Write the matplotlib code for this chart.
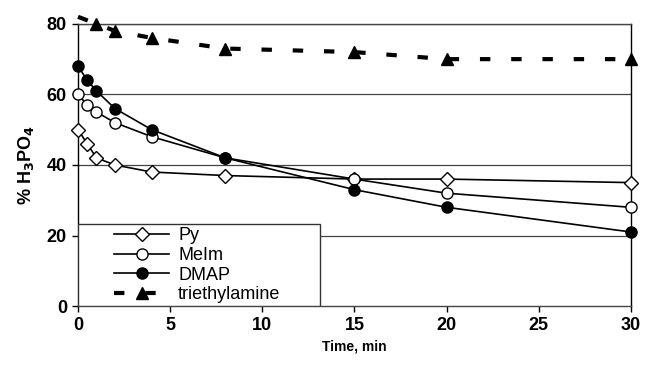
import matplotlib
matplotlib.use('Agg')
import matplotlib.pyplot as plt
from matplotlib.patches import Rectangle

plt.rcParams['font.family'] = ['Liberation Sans', 'DejaVu Sans']

# time points, min
t_py = [0, 0.5, 1, 2, 4, 8, 15, 20, 30]
py = [50, 46, 42, 40, 38, 37, 36, 36, 35]

t_meim = [0, 0.5, 1, 2, 4, 8, 15, 20, 30]
meim = [60, 57, 55, 52, 48, 42, 36, 32, 28]

t_dmap = [0, 0.5, 1, 2, 4, 8, 15, 20, 30]
dmap = [68, 64, 61, 56, 50, 42, 33, 28, 21]

t_tea = [0, 1, 2, 4, 8, 15, 20, 30]
tea = [82, 80, 78, 76, 73, 72, 70, 70]

xticks = [0, 5, 10, 15, 20, 25, 30]
yticks = [0, 20, 40, 60, 80]

fig = plt.figure(figsize=(6.45, 3.67), dpi=100)
ax = fig.add_axes([0.121, 0.166, 0.857, 0.769])

for y in [20, 40, 60, 80]:
    ax.axhline(y, color='#444444', lw=0.9, zorder=1)

ax.plot(t_py, py, color='black', lw=1.2, marker='D', ms=7, mfc='white',
        mec='black', mew=1, label='Py', clip_on=False, zorder=3)
ax.plot(t_meim, meim, color='black', lw=1.2, marker='o', ms=8, mfc='white',
        mec='black', mew=1, label='MeIm', clip_on=False, zorder=3)
ax.plot(t_dmap, dmap, color='black', lw=1.2, marker='o', ms=8, mfc='black',
        mec='black', label='DMAP', clip_on=False, zorder=3)
# no marker on the first (t=0) point of triethylamine
ax.plot(t_tea, tea, color='black', lw=3, dashes=(2.5, 5), marker='^', ms=8,
        mfc='black', mec='black', markevery=list(range(1, len(t_tea))),
        label='triethylamine', clip_on=False, zorder=3)

ax.set_xlim(0, 30)
ax.set_ylim(0, 80)
ax.set_xticks(xticks)
ax.set_yticks(yticks)
ax.tick_params(direction='out', length=4, width=1, pad=4, labelsize=13)
for lab in ax.get_xticklabels() + ax.get_yticklabels():
    lab.set_fontweight('bold')
for s in ax.spines.values():
    s.set_color('black')
    s.set_linewidth(1)
ax.spines['top'].set_color('#444444')
ax.spines['bottom'].set_color('#444444')

ax.set_xlabel('Time, min', fontsize=10, fontweight='bold', labelpad=4)
ax.set_ylabel('% H$_\\mathbf{3}$PO$_\\mathbf{4}$', fontsize=13, fontweight='bold', labelpad=8)

# legend box
ax.add_patch(Rectangle((0, 0), 0.437, 0.29, transform=ax.transAxes,
                       facecolor='white', edgecolor='#333333', lw=1, zorder=4))
leg = ax.legend(loc='upper left', bbox_to_anchor=(0.065, 0.279), frameon=False,
                fontsize=13, handlelength=3.05, handletextpad=0.5,
                labelspacing=0.15, borderpad=0, borderaxespad=0)
leg.set_zorder(5)

fig.savefig('out.png', dpi=100)
